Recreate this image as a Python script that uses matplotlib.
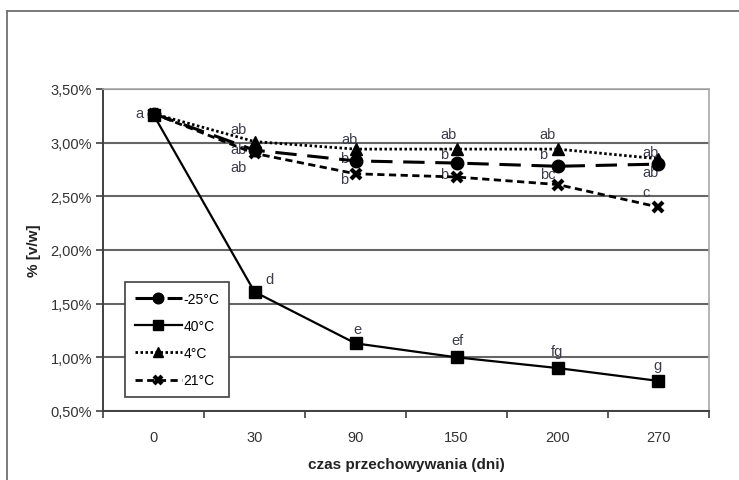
import matplotlib.pyplot as plt
from matplotlib.lines import Line2D
from matplotlib.ticker import FixedLocator, FuncFormatter

plt.rcParams['font.family'] = ['Liberation Sans Narrow', 'Liberation Sans', 'DejaVu Sans']

days = ['0', '30', '90', '150', '200', '270']
t_m25 = [3.27, 2.93, 2.83, 2.81, 2.78, 2.80]
t_40 = [3.26, 1.61, 1.13, 1.00, 0.90, 0.78]
t_4 = [3.27, 3.01, 2.94, 2.94, 2.94, 2.85]
t_21 = [3.27, 2.90, 2.71, 2.68, 2.61, 2.40]

# litery istotnosci roznic (grupy jednorodne)
lit_4 = ['a', 'ab', 'ab', 'ab', 'ab', 'ab']
lit_m25 = ['', 'ab', 'b', 'b', 'b', 'ab']
lit_21 = ['', 'ab', 'b', 'b', 'bc', 'c']
lit_40 = ['', 'd', 'e', 'ef', 'fg', 'g']

# przesuniecia etykiet wzgledem punktow (px)
off_4 = [(-14, 1), (-16, 13), (-6, 10), (-8, 15), (-10, 15), (-8, 7)]
off_m25 = [(0, 0), (-16, 1), (-11, 3), (-12, 9), (-14, 12), (-8, -8)]
off_21 = [(0, 0), (-16, -14), (-11, -5), (-12, 3), (-10, 11), (-12, 15)]
off_40 = [(0, 0), (15, 13), (2, 14), (1, 17), (0, 17), (-1, 16)]

fig = plt.figure(figsize=(7.39, 4.81), dpi=100)
ax = fig.add_axes([0.1394, 0.1435, 0.8200, 0.6694])

x = list(range(len(days)))
ax.plot(x, t_m25, color='black', lw=2.2, dashes=(7, 3.5), marker='o', ms=9, label='-25°C', zorder=4)
ax.plot(x, t_40, color='black', lw=1.6, marker='s', ms=8.5, label='40°C', zorder=4)
ax.plot(x, t_4, color='black', lw=2.0, linestyle=(0, (0.9, 0.9)), marker='^', ms=9, label='4°C', zorder=4)
ax.plot(x, t_21, color='black', lw=2.0, dashes=(2.6, 1.6), marker='x', ms=7, mew=3, label='21°C', zorder=4)

lc = '#3c3c4c'
fs = 10.5


def podpisz(vals, lits, offs):
    for i, (v, t, o) in enumerate(zip(vals, lits, offs)):
        if t:
            ax.annotate(t, (x[i], v), xytext=(o[0] * 0.72, o[1] * 0.72), textcoords='offset points',
                        color=lc, fontsize=fs, ha='center', va='center', zorder=3)


podpisz(t_4, lit_4, off_4)
podpisz(t_m25, lit_m25, off_m25)
podpisz(t_21, lit_21, off_21)
podpisz(t_40, lit_40, off_40)

ax.set_xlim(-0.5, 5.5)
ax.set_ylim(0.5, 3.5)
ax.set_yticks([0.5, 1.0, 1.5, 2.0, 2.5, 3.0, 3.5])
ax.yaxis.set_major_formatter(FuncFormatter(lambda v, p: f'{v:.2f}%'.replace('.', ',')))
ax.set_xticks(x)
ax.set_xticklabels(days)
ax.xaxis.set_minor_locator(FixedLocator([i - 0.5 for i in range(7)]))
ax.tick_params(axis='x', which='major', length=0, pad=14, labelsize=10.5, labelcolor='#333333')
ax.tick_params(axis='x', which='minor', length=5, width=1.2, color='#404040')
ax.tick_params(axis='y', length=5, width=1.2, color='#404040', labelsize=10.5, pad=3, labelcolor='#333333')

ax.grid(axis='y', color='#666666', lw=1.5)
for s in ['top', 'right']:
    ax.spines[s].set_color('#a8a8a8')
    ax.spines[s].set_linewidth(1.2)
for s in ['left', 'bottom']:
    ax.spines[s].set_color('#404040')
    ax.spines[s].set_linewidth(1.4)

ax.set_xlabel('czas przechowywania (dni)', fontsize=11, fontweight='bold', labelpad=9, color='#222222')
ax.set_ylabel('% [v/w]', fontsize=11, fontweight='bold', labelpad=7, color='#222222')

leg = ax.legend(loc='lower left', bbox_to_anchor=(0.036, 0.043), borderaxespad=0, fontsize=10,
                frameon=True, fancybox=False, edgecolor='#404040', framealpha=1, borderpad=0.7,
                labelspacing=0.95, handlelength=3.4, handletextpad=0.1, markerscale=0.85)
leg.get_frame().set_linewidth(1.2)
leg.set_zorder(6)

# ramka wokol calego wykresu
fig.add_artist(Line2D([7 / 739, 7 / 739], [0, 1 - 12 / 481], transform=fig.transFigure, color='#707070', lw=1.3))
fig.add_artist(Line2D([7 / 739, 1], [1 - 12 / 481, 1 - 12 / 481], transform=fig.transFigure, color='#707070', lw=1.3))

fig.savefig('out.png', dpi=100)
